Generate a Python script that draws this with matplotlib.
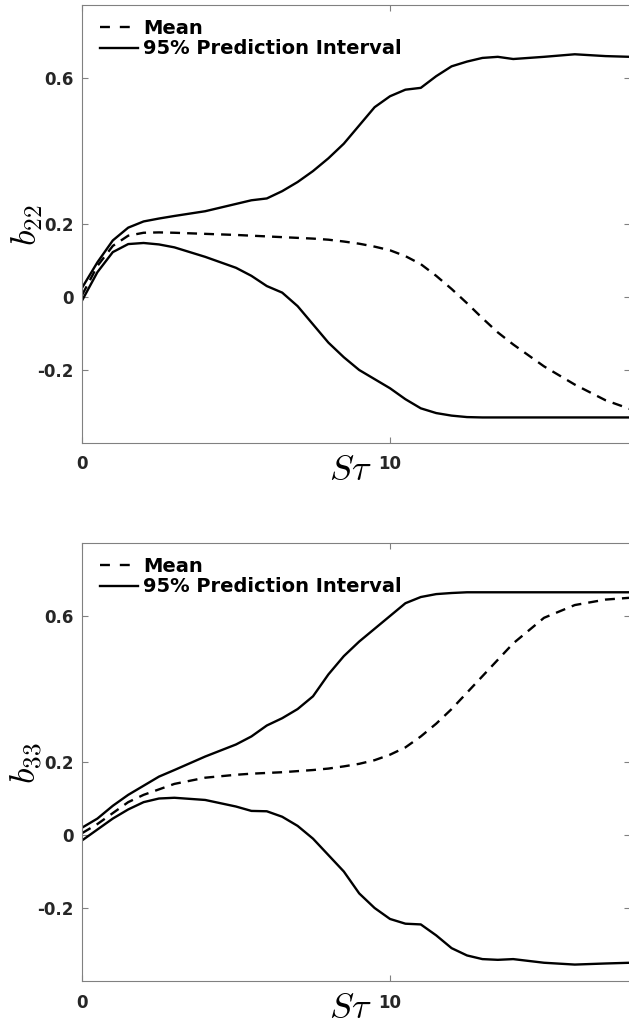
import matplotlib
matplotlib.use('Agg')
import matplotlib.pyplot as plt

plt.rcParams['mathtext.fontset'] = 'cm'

# S*tau values shared by all curves
st = [0, 0.5, 1.0, 1.5, 2.0, 2.5, 3.0, 4.0, 5.0, 5.5, 6.0, 6.5, 7.0, 7.5, 8.0, 8.5,
      9.0, 9.5, 10.0, 10.5, 11.0, 11.5, 12.0, 12.5, 13.0, 13.5, 14.0, 15.0, 16.0, 17.0, 17.8]

# b22
b22_mean = [0.005, 0.085, 0.14, 0.168, 0.176, 0.177, 0.176, 0.173, 0.17, 0.168, 0.166, 0.164,
            0.162, 0.16, 0.157, 0.152, 0.146, 0.138, 0.128, 0.112, 0.09, 0.058, 0.022, -0.017,
            -0.058, -0.097, -0.13, -0.19, -0.24, -0.283, -0.307]
b22_upper = [0.025, 0.095, 0.155, 0.19, 0.207, 0.215, 0.222, 0.235, 0.255, 0.265, 0.27, 0.29,
             0.315, 0.345, 0.38, 0.42, 0.47, 0.52, 0.55, 0.568, 0.573, 0.605, 0.632, 0.645,
             0.655, 0.658, 0.652, 0.658, 0.665, 0.66, 0.658]
b22_lower = [-0.01, 0.068, 0.123, 0.145, 0.148, 0.144, 0.136, 0.11, 0.08, 0.058, 0.03, 0.012,
             -0.025, -0.075, -0.125, -0.165, -0.2, -0.225, -0.25, -0.28, -0.305, -0.318, -0.325,
             -0.329, -0.33, -0.33, -0.33, -0.33, -0.33, -0.33, -0.33]

# b33
b33_mean = [0.005, 0.03, 0.06, 0.09, 0.11, 0.125, 0.14, 0.157, 0.165, 0.168, 0.17, 0.172,
            0.175, 0.178, 0.182, 0.188, 0.195, 0.205, 0.22, 0.24, 0.27, 0.305, 0.345, 0.39,
            0.435, 0.48, 0.525, 0.595, 0.63, 0.645, 0.65]
b33_upper = [0.02, 0.045, 0.08, 0.11, 0.135, 0.16, 0.178, 0.215, 0.248, 0.27, 0.3, 0.32,
             0.345, 0.38, 0.44, 0.49, 0.53, 0.565, 0.6, 0.635, 0.652, 0.66, 0.663, 0.665,
             0.665, 0.665, 0.665, 0.665, 0.665, 0.665, 0.665]
b33_lower = [-0.015, 0.015, 0.045, 0.07, 0.09, 0.1, 0.102, 0.096, 0.078, 0.066, 0.065, 0.05,
             0.025, -0.01, -0.055, -0.1, -0.16, -0.2, -0.23, -0.243, -0.245, -0.275, -0.31,
             -0.33, -0.34, -0.342, -0.34, -0.35, -0.355, -0.352, -0.35]

yticks = [-0.2, 0, 0.2, 0.6]
yticklabels = ['-0.2', '0', '0.2', '0.6']
xticks = [0, 10]

W, H = 629, 1025
fig = plt.figure(figsize=(W / 100, H / 100), dpi=100)
ax1 = fig.add_axes([82 / W, 1 - 443 / H, 548 / W, 438 / H])
ax2 = fig.add_axes([82 / W, 1 - 981 / H, 548 / W, 438 / H])

panels = [(ax1, b22_mean, b22_upper, b22_lower, r'$b_{22}$'),
          (ax2, b33_mean, b33_upper, b33_lower, r'$b_{33}$')]

lw = 1.7
for ax, m, up, lo, lab in panels:
    ax.plot(st, m, color='black', lw=lw, linestyle=(0, (4.2, 3.0)), label='Mean')
    ax.plot(st, up, color='black', lw=lw, label='95% Prediction Interval')
    ax.plot(st, lo, color='black', lw=lw)
    ax.set_xlim(0, 548 / 30.8)
    ax.set_ylim(-0.4, 0.8)
    ax.set_xticks(xticks)
    ax.set_yticks(yticks)
    ax.set_yticklabels(yticklabels)
    for s in ax.spines.values():
        s.set_color('#808080')
        s.set_linewidth(0.8)
    ax.tick_params(direction='in', length=4, width=0.8, color='#808080',
                   labelcolor='#262626', top=True, right=True, labelsize=12)
    ax.tick_params(axis='x', pad=9)
    ax.tick_params(axis='y', pad=6)
    for t in ax.get_xticklabels() + ax.get_yticklabels():
        t.set_fontweight('bold')
    ax.set_xlabel(r'$S\tau$', fontsize=26)
    ax.xaxis.set_label_coords(0.489, -0.022)
    ax.set_ylabel(lab, fontsize=26)
    ax.yaxis.set_label_coords(-0.068, 0.498)
    leg = ax.legend(loc='upper left', bbox_to_anchor=(0.033, 0.968), frameon=False,
                    borderaxespad=0, borderpad=0, handlelength=1.96, handletextpad=0.26,
                    labelspacing=0.07, prop={'weight': 'bold', 'size': 14})
    # legend dashed sample shows two dashes, like the original
    leg.get_lines()[0].set_linestyle((0, (4.2, 4.2)))

fig.savefig('out.png', dpi=100, facecolor='white')
